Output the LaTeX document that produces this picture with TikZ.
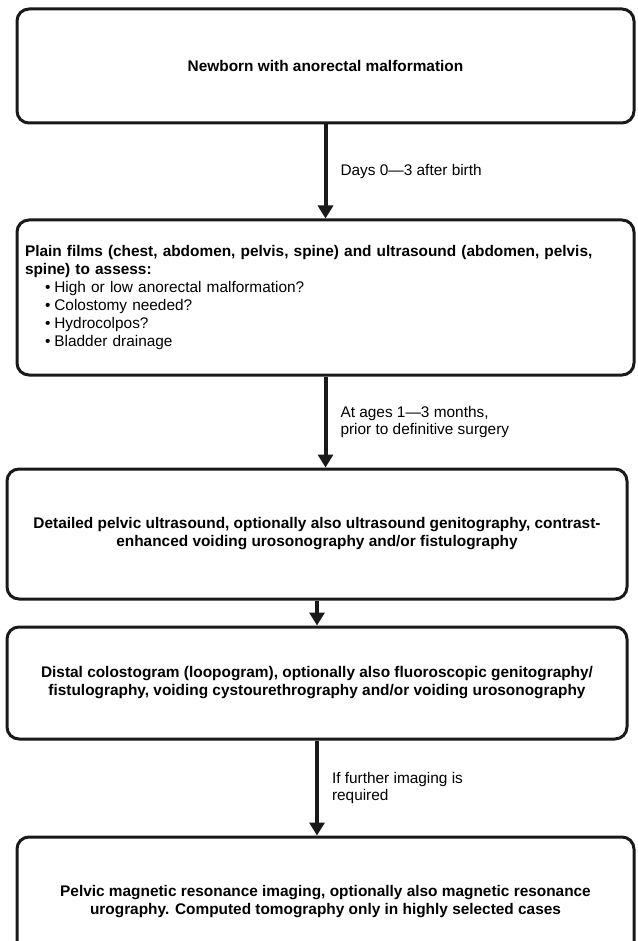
\documentclass[tikz,border=0pt]{standalone}
\usepackage{fontspec}
\setmainfont{Liberation Sans}
\usetikzlibrary{arrows.meta, positioning}

\newcommand{\stepitem}{\hspace*{20pt}\textbullet\hspace{4pt}}

\begin{document}
\begin{tikzpicture}[x=1pt, y=-1pt,
            stage/.style={draw=black!90, line width=3pt, rounded corners=12pt, fill=white, align=center, inner sep=8pt, font=\fontsize{15.4}{18}\selectfont\bfseries},
            flow/.style={-{Triangle[length=13pt, width=15pt]}, line width=4pt, draw=black!90},
            note/.style={anchor=west, align=left, inner sep=0pt, xshift=13pt, font=\fontsize{15.4}{17}\selectfont}
        ]
            \clip (0,0) rectangle (637,941);

            % Boxes
            \node[stage, minimum width=617, minimum height=114] (newborn) at (325.5,66) {Newborn with anorectal malformation};

            \node[stage, text width=601, minimum height=155, align=left] (plain) at (325.5,297.5)
                {Plain films (chest, abdomen, pelvis, spine) and ultrasound (abdomen, pelvis,\\
                 spine) to assess:\\
                 \mdseries\stepitem High or low anorectal malformation?\\
                 \stepitem Colostomy needed?\\
                 \stepitem Hydrocolpos?\\
                 \stepitem Bladder drainage};

            \node[stage, minimum width=620, minimum height=130] (detailed) at (317,534)
                {Detailed pelvic ultrasound, optionally also ultrasound genitography, contrast-\\
                 enhanced voiding urosonography and/or fistulography};

            \node[stage, minimum width=620, minimum height=112] (distal) at (317,683)
                {Distal colostogram (loopogram), optionally also fluoroscopic genitography/\\
                 fistulography, voiding cystourethrography and/or voiding urosonography};

            \node[stage, minimum width=617, minimum height=130] (mri) at (325.5,902)
                {Pelvic magnetic resonance imaging, optionally also magnetic resonance\\
                 urography. Computed tomography only in highly selected cases};

            % Connections
            \draw[flow] (newborn) -- (plain) node[note, midway] {Days 0---3 after birth};
            \draw[flow] (plain) -- (plain |- detailed.north) node[note, midway] {At ages 1---3 months,\\prior to definitive surgery};
            \draw[flow] (detailed) -- (distal);
            \draw[flow] (distal) -- (distal |- mri.north) node[note, midway] {If further imaging is\\required};
        \end{tikzpicture}
\end{document}
